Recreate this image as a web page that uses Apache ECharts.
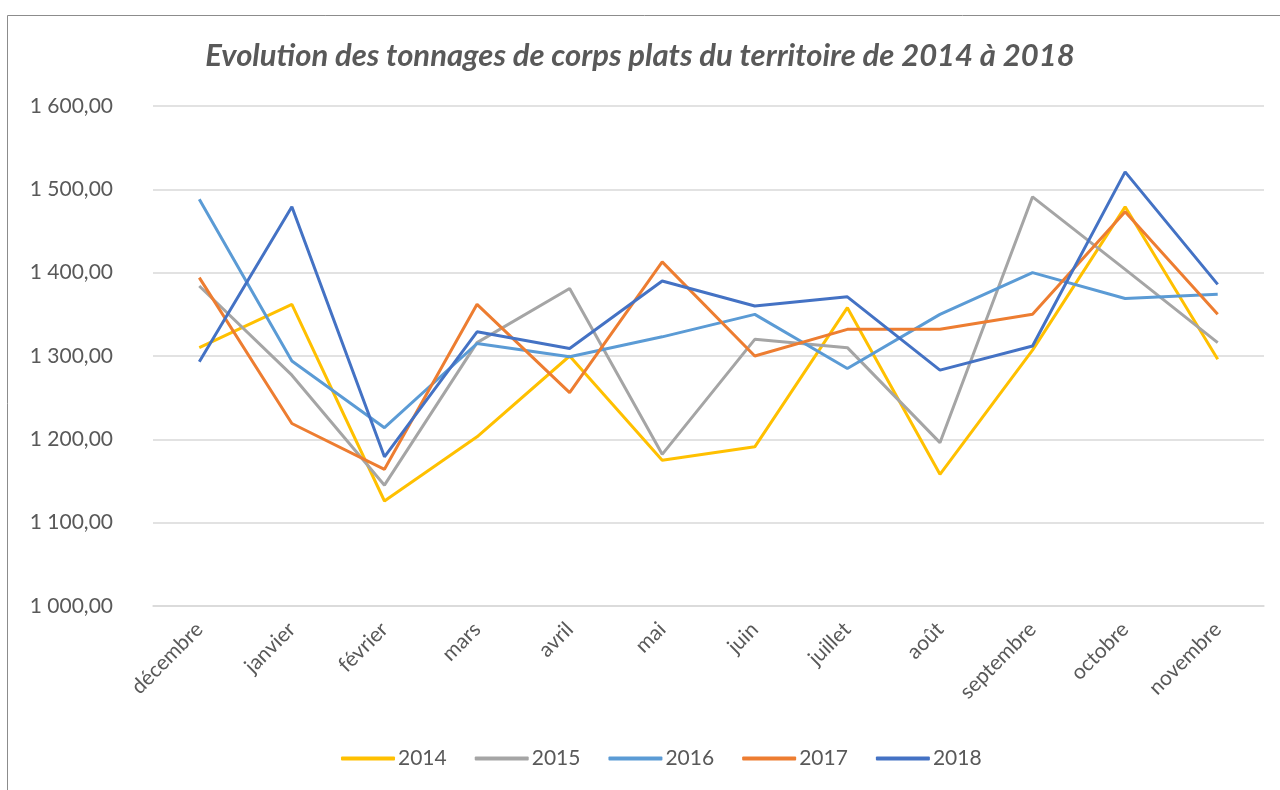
<!DOCTYPE html>
<html><head><meta charset="utf-8">
<script src="https://cdn.jsdelivr.net/npm/echarts@6/dist/echarts.min.js"></script>
<style>html,body{margin:0;padding:0;background:#fff}#c{width:1280px;height:790px}</style>
</head><body><div id="c"></div>
<script>
const months = ['décembre','janvier','février','mars','avril','mai','juin','juillet','août','septembre','octobre','novembre'];
const s2014 = [1310,1362,1126,1203,1300,1175,1191,1358,1158,1307,1479,1296];
const s2015 = [1384,1277,1145,1316,1381,1182,1320,1310,1196,1491,1404,1316];
const s2016 = [1488,1294,1214,1315,1299,1323,1350,1285,1350,1400,1369,1374];
const s2017 = [1394,1219,1164,1362,1256,1413,1300,1332,1332,1350,1473,1350];
const s2018 = [1293,1479,1179,1329,1309,1390,1360,1371,1283,1312,1521,1386];
const years = ['2014','2015','2016','2017','2018'];
const colors = ['#FFC000','#A5A5A5','#5B9BD5','#ED7D31','#4472C4'];

const seriesData = [s2014,s2015,s2016,s2017,s2018];
const font = 'Lato, "Open Sans", sans-serif';
function fmt(v){
  const s = v.toFixed(2).replace('.', ',');
  const [i,d] = s.split(',');
  return i.replace(/\B(?=(\d{3})+(?!\d))/g,' ') + ',' + d;
}
const chart = echarts.init(document.getElementById('c'));
chart.setOption({
  animation:false,
  color: colors,
  graphic:[{type:'rect',shape:{x:7.5,y:15.5,width:1300,height:800},style:{fill:'none',stroke:'#8c8c8c',lineWidth:1},silent:true}],
  title:{text:'Evolution des tonnages de corps plats du territoire de 2014 à 2018',left:'center',top:35,
    textStyle:{fontFamily:font,fontSize:31,fontWeight:'bold',fontStyle:'italic',color:'#595959'}},
  legend:{top:743,left:336,itemWidth:54,itemHeight:4,itemGap:28,icon:'roundRect',
    textStyle:{fontFamily:font,fontSize:21,color:'#595959',padding:[0,0,0,-2]}, data: years},
  grid:{left:153,right:16,top:106,bottom:184},
  xAxis:{type:'category',data:months,boundaryGap:true,
    axisLine:{show:true,lineStyle:{color:'#d9d9d9',width:1.5}},axisTick:{show:false},
    axisLabel:{rotate:45,fontFamily:font,fontSize:21,color:'#595959',margin:20,interval:0}},
  yAxis:{type:'value',min:1000,max:1600,interval:100,
    axisLine:{show:false},axisTick:{show:false},
    splitLine:{lineStyle:{color:'#d9d9d9',width:1.5}},
    axisLabel:{fontFamily:font,fontSize:21,color:'#595959',margin:40,formatter:v=>fmt(v)}},
  series: years.map((y,i)=>({name:y,type:'line',data:seriesData[i],symbol:'none',
    lineStyle:{width:3,color:colors[i]},itemStyle:{color:colors[i]}}))
});
</script></body></html>
